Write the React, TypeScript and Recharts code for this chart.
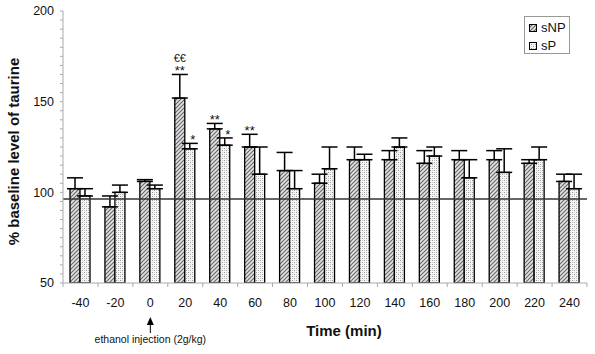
import React from 'react';
import { ComposedChart, Bar, XAxis, YAxis, ErrorBar, ReferenceLine, LabelList } from 'recharts';

const times = ['-40', '-20', '0', '20', '40', '60', '80', '100', '120', '140', '160', '180', '200', '220', '240'];
const sNPValues = [102, 92, 106, 152, 135, 125, 112, 105, 118, 118, 116, 118, 118, 116, 106];
const sNPErrors = [6, 6, 1, 13, 3, 7, 10, 5, 7, 5, 7, 5, 5, 2, 4];
const sPValues = [98, 100, 102, 124, 126, 110, 102, 113, 118, 125, 120, 108, 111, 118, 102];
const sPErrors = [4, 4, 2, 3, 4, 15, 10, 12, 3, 5, 5, 10, 13, 7, 8];
const sNPStars = ['', '', '', '**', '**', '**', '', '', '', '', '', '', '', '', ''];
const sNPEuro = ['', '', '', '€€', '', '', '', '', '', '', '', '', '', '', ''];
const sPStars = ['', '', '', '*', '*', '', '', '', '', '', '', '', '', '', ''];
const baselineLevel = 96.3;
const yMin = 50;
const yMax = 200;
const yMajorTicks = [50, 100, 150, 200];

const yTicks: number[] = [];
for (let v = yMin; v <= yMax; v += 5) yTicks.push(v);

const data = times.map((t, i) => ({
  time: t,
  sNP: sNPValues[i],
  sNPErr: [0, sNPErrors[i]],
  sP: sPValues[i],
  sPErr: [0, sPErrors[i]],
  sNPStar: sNPStars[i],
  sPStar: sPStars[i],
}));

const FONT = '"Liberation Sans", Arial, sans-serif';

const makeSigLabel = (vals: number[], errs: number[], stars: string[], euros: string[] | null, dx: number) =>
  (props: any) => {
    const { x, y, width, height, index } = props;
    const text = stars[index];
    if (!text) return null;
    const v = vals[index];
    const ppu = height / (v - yMin);
    const top = y - errs[index] * ppu;
    const cx = x + width / 2 + dx;
    return (
      <g>
        <text x={cx} y={top + 1} textAnchor="middle" fontSize={13} fontFamily={FONT} fill="#111">{text}</text>
        {euros && euros[index] ? (
          <text x={cx} y={top - 12} textAnchor="middle" fontSize={11} fontFamily={FONT} fill="#111">{euros[index]}</text>
        ) : null}
      </g>
    );
  };

const XTick = (props: any) => {
  const { x, y, payload, index } = props;
  const off = payload && payload.offset ? payload.offset : 17.5;
  return (
    <g>
      <line x1={x - off} x2={x - off} y1={y} y2={y + 4} stroke="#aaa" />
      {index === times.length - 1 ? <line x1={x + off} x2={x + off} y1={y} y2={y + 4} stroke="#aaa" /> : null}
      <text x={x} y={y + 23.5} textAnchor="middle" fontSize={12.5} fontFamily={FONT} fill="#111">{payload.value}</text>
      {payload.value === '0' ? (
        <g>
          <path d={`M${x},${y + 34} L${x - 3.5},${y + 42} L${x + 3.5},${y + 42} Z`} fill="#000" />
          <line x1={x} x2={x} y1={y + 42} y2={y + 50} stroke="#000" strokeWidth={1} />
          <text x={x} y={y + 60} textAnchor="middle" fontSize={10.5} fontFamily={FONT} fill="#111">ethanol injection (2g/kg)</text>
        </g>
      ) : null}
    </g>
  );
};

const YTickFmt = (v: number) => (yMajorTicks.indexOf(v) >= 0 ? String(v) : '');

export default function App() {
  return (
    <div style={{ position: 'absolute', left: 0, top: 0, width: 595, height: 354, background: '#fff' }}>
      <ComposedChart
        width={595}
        height={354}
        data={data}
        margin={{ top: 11, right: 8, left: 0, bottom: 0 }}
        barGap={0}
        style={{ fontFamily: FONT }}
      >
        <defs>
          <pattern id="hatchNP" width="4" height="4" patternUnits="userSpaceOnUse">
            <rect width="4" height="4" fill="#e2e2e2" />
            <path d="M-1,1 l2,-2 M0,4 l4,-4 M3,5 l2,-2" stroke="#666" strokeWidth="1.1" />
          </pattern>
          <pattern id="dotsP" width="4" height="4" patternUnits="userSpaceOnUse">
            <rect width="4" height="4" fill="#f6f6f6" />
            <rect x="0" y="0" width="1" height="1" fill="#999" />
            <rect x="2" y="2" width="1" height="1" fill="#999" />
            <rect x="2" y="0" width="1" height="1" fill="#ccc" />
            <rect x="0" y="2" width="1" height="1" fill="#ccc" />
          </pattern>
        </defs>
        <XAxis
          dataKey="time"
          interval={0}
          height={71}
          tickLine={false}
          tickSize={0}
          tickMargin={0}
          stroke="#aaa"
          tick={<XTick />}
          label={{
            content: (p: any) => {
              const vb = p.viewBox || { x: 63, y: 283, width: 524 };
              return (
                <text x={vb.x + vb.width / 2 + 19} y={vb.y + 53} textAnchor="middle" fontSize={15} fontWeight="bold" fontFamily={FONT} fill="#111">
                  Time (min)
                </text>
              );
            },
          }}
        />
        <YAxis
          domain={[yMin, yMax]}
          ticks={yTicks}
          interval={0}
          width={63}
          tickSize={3}
          tickMargin={6}
          tickFormatter={YTickFmt}
          stroke="#aaa"
          tick={{ fill: '#111', fontSize: 12.5, fontFamily: FONT }}
          allowDataOverflow
          label={{
            content: () => (
              <text x={19} y={151.5} transform="rotate(-90, 19, 151.5)" textAnchor="middle" fontSize={15} fontWeight="bold" fontFamily={FONT} fill="#111">
                % baseline level of taurine
              </text>
            ),
          }}
        />
        <Bar dataKey="sNP" barSize={10} fill="url(#hatchNP)" stroke="#000" strokeWidth={1.3} isAnimationActive={false}>
          <ErrorBar dataKey="sNPErr" width={8} stroke="#000" strokeWidth={1.5} direction="y" />
          <LabelList dataKey="sNPStar" content={makeSigLabel(sNPValues, sNPErrors, sNPStars, sNPEuro, 0)} />
        </Bar>
        <Bar dataKey="sP" barSize={10} fill="url(#dotsP)" stroke="#000" strokeWidth={1.3} isAnimationActive={false}>
          <ErrorBar dataKey="sPErr" width={8} stroke="#000" strokeWidth={1.5} direction="y" />
          <LabelList dataKey="sPStar" content={makeSigLabel(sPValues, sPErrors, sPStars, null, 3)} />
        </Bar>
        <ReferenceLine y={baselineLevel} stroke="#333" strokeWidth={1.5} ifOverflow="extendDomain" />
      </ComposedChart>
      <div
        style={{
          position: 'absolute',
          left: 524,
          top: 16,
          width: 46,
          height: 38,
          border: '1px solid #999',
          background: '#fff',
          fontFamily: FONT,
          fontSize: 13,
          color: '#111',
          boxSizing: 'border-box',
        }}
      >
        {[
          { name: 'sNP', fill: 'url(#hatchNP)' },
          { name: 'sP', fill: 'url(#dotsP)' },
        ].map((it, i) => (
          <div key={it.name} style={{ position: 'absolute', left: 4, top: 3 + i * 18, height: 15, display: 'flex', alignItems: 'center' }}>
            <svg width={8} height={8} style={{ marginRight: 4 }}>
              <rect x={0.5} y={0.5} width={7} height={7} fill={it.fill} stroke="#000" strokeWidth={1} />
            </svg>
            <span style={{ lineHeight: '15px' }}>{it.name}</span>
          </div>
        ))}
      </div>
    </div>
  );
}
